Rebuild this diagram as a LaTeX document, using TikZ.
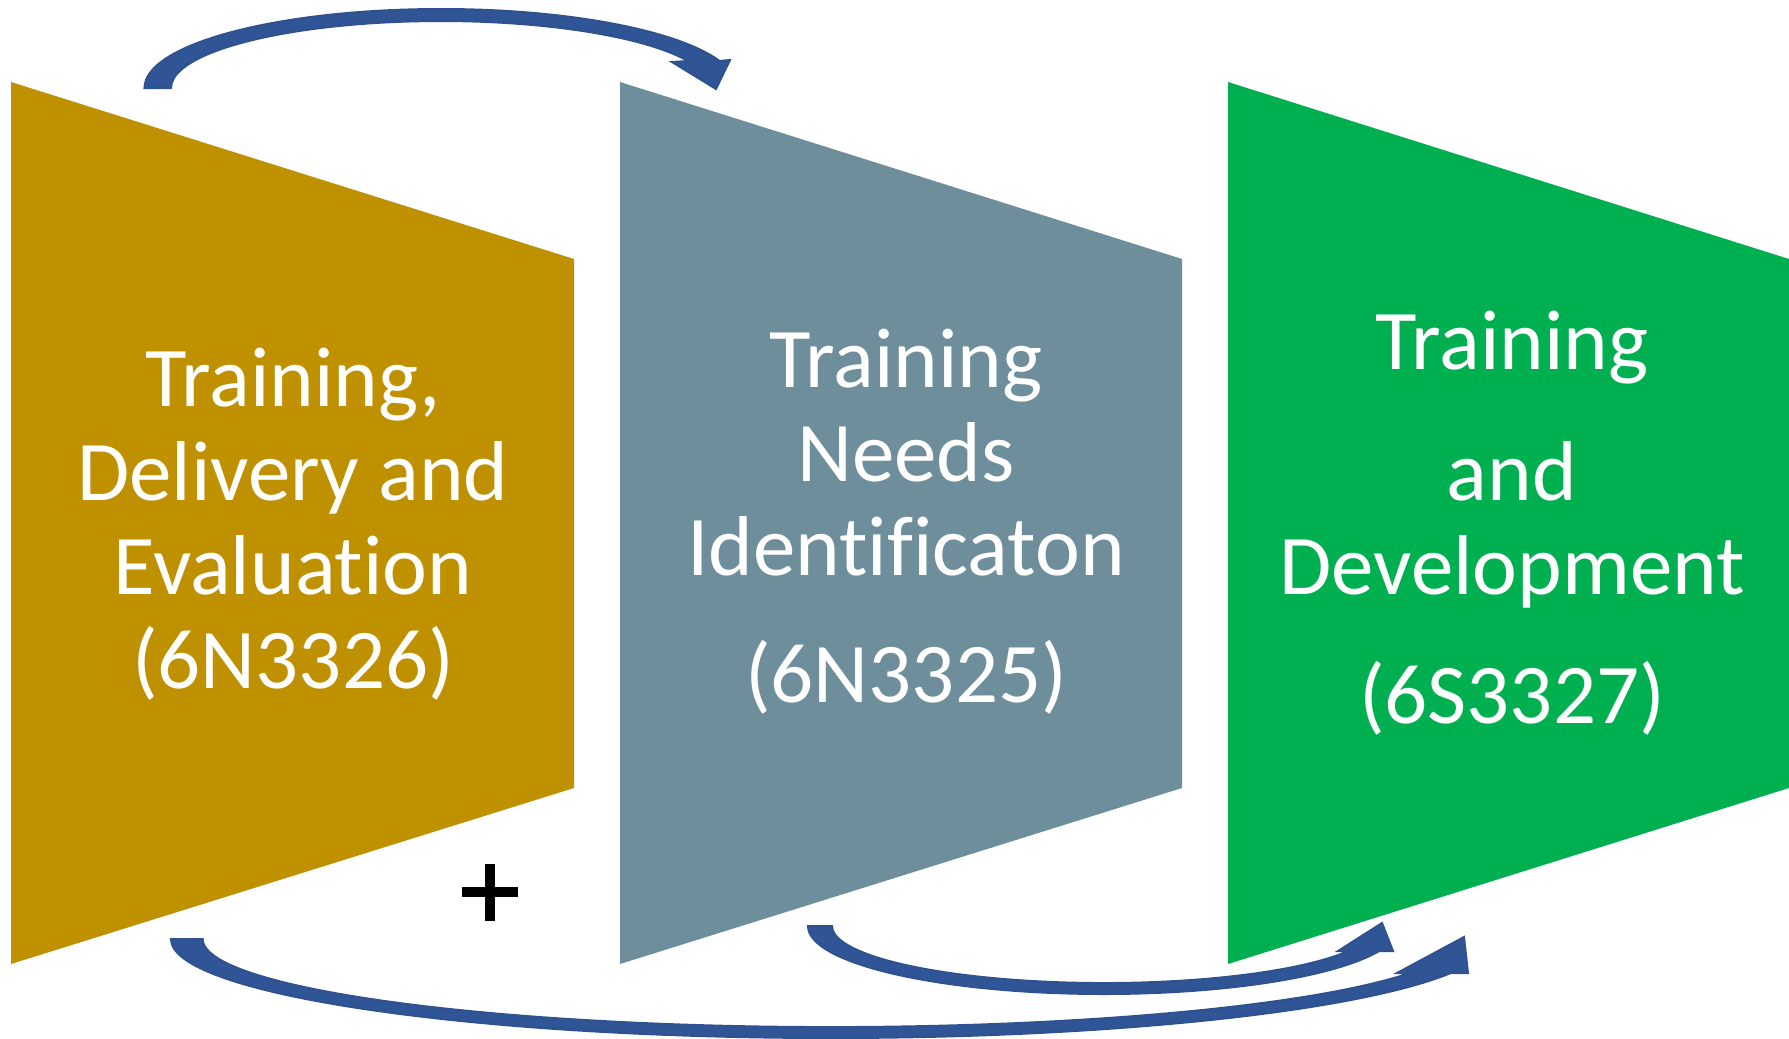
\documentclass[tikz,border=0pt]{standalone}
\usepackage{fontspec}
\setmainfont{Carlito}[Ligatures=NoCommon]
\usepackage{xcolor}
\definecolor{goldColor}{HTML}{BF9000}
\definecolor{slateColor}{HTML}{6D8E9A}
\definecolor{greenColor}{HTML}{00B050}
\definecolor{arrowBlue}{HTML}{2F5597}
\definecolor{arrowEdge}{HTML}{2F528F}
\usepackage{tikz}
\usetikzlibrary{positioning,calc}
\tikzset{
  stageShape/.style={
    draw=none
 },
  stageText/.style={
    text=white,
    align=center,
    inner sep=0pt,
    font=\fontsize{42.5}{47}\selectfont
 },
  loopArrow/.style={
    fill=arrowBlue,
    draw=arrowEdge,
    line width=1pt,
    line join=miter
 }
}

\begin{document}
\begin{tikzpicture}[x=0.5pt,y=-0.5pt]
            \useasboundingbox (0,0) rectangle (1789,1039);

            % the three stages
            \fill[stageShape, goldColor] (11,82) -- (574,259) -- (574,788) -- (11,964) -- cycle;
            \fill[stageShape, slateColor] (620,82) -- (1182,259) -- (1182,788) -- (620,964) -- cycle;
            \fill[stageShape, greenColor] (1228,82) -- (1789,259) -- (1789,788) -- (1228,964) -- cycle;

            \node[stageText] (delivery) at (293,524) {Training,\\Delivery and\\Evaluation\\(6N3326)};
            \node[stageText] (needs) at (906,522) {Training\\Needs\\Identificaton\\[16.5pt](6N3325)};
            \node[stageText] (develop) at (1512,523) {Training\\[18.5pt]and\\Development\\[17.5pt](6S3327)};

            % loop arrows
            \coordinate (topStart) at (144.5,88);
            \coordinate (longStart) at (171,939);
            \coordinate (shortStart) at (808,926);

            \draw[loopArrow] (topStart) arc[start angle=180, end angle=340, x radius=296.5, y radius=79]
              -- (730,60) -- (716,89) -- (672,62) -- (688,61)
              arc[start angle=336.2, end angle=180, x radius=270, y radius=67] -- cycle;
            \draw[loopArrow] (longStart) arc[start angle=180, end angle=20.1, x radius=660, y radius=99]
              -- (1468,973) -- (1464,937) -- (1397,973) -- (1410,973)
              arc[start angle=22.7, end angle=180, x radius=628, y radius=88] -- cycle;
            \draw[loopArrow] (shortStart) arc[start angle=180, end angle=21.57, x radius=296, y radius=68]
              -- (1393,951) -- (1382,923) -- (1338,951) -- (1348.5,951)
              arc[start angle=26, end angle=180, x radius=272, y radius=57] -- cycle;

            % plus mark
            \draw[line width=5pt] (462,892) -- (518,892) (490,864) -- (490,921);
        \end{tikzpicture}
\end{document}
